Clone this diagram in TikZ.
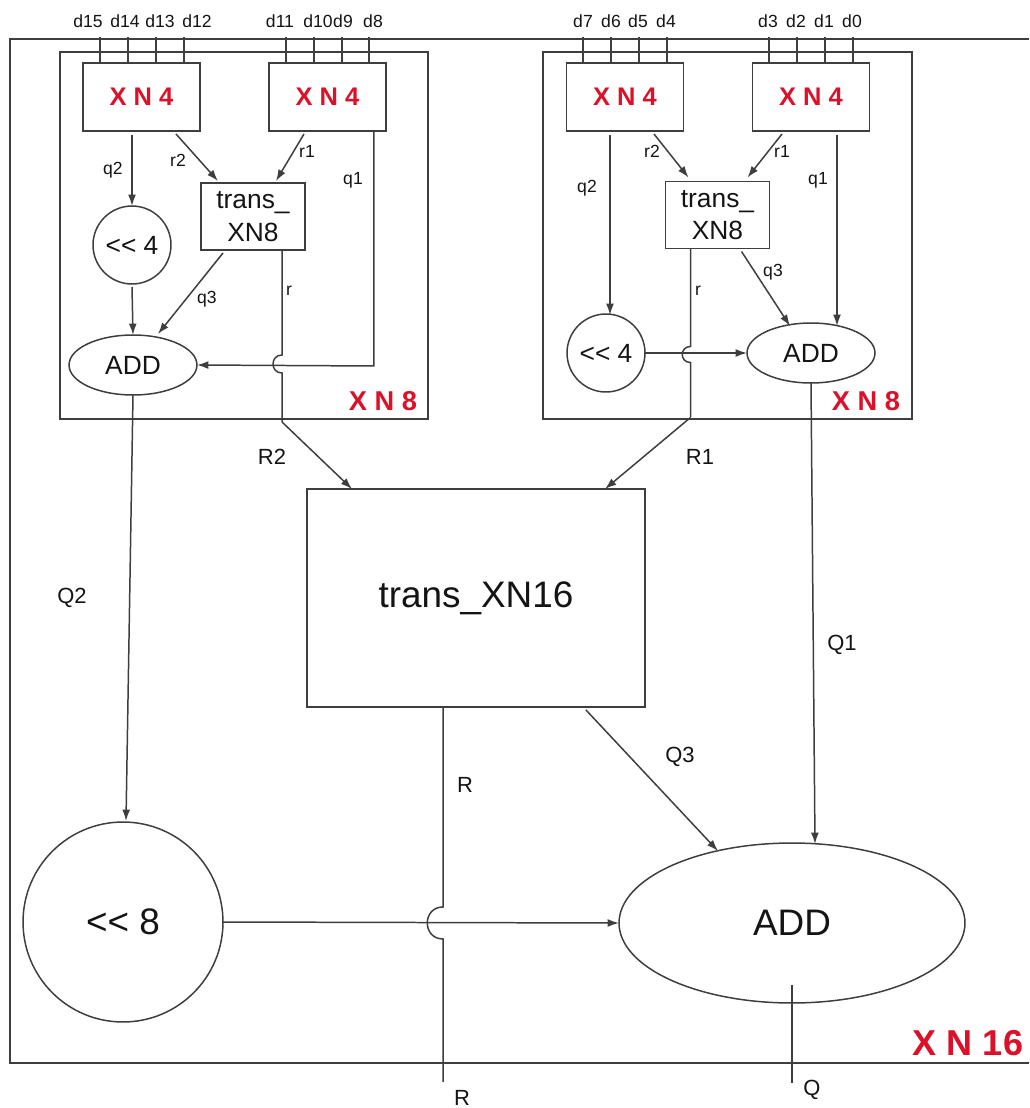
\documentclass[tikz,border=0pt]{standalone}
\usepackage{fontspec}
\setmainfont{Liberation Sans}[Ligatures=TeXOff]
\usetikzlibrary{arrows.meta,shapes.geometric,calc}
\definecolor{xnred}{RGB}{220,16,40}
\definecolor{ln}{RGB}{62,62,62}
\definecolor{tx}{RGB}{20,20,20}
\begin{document}
\begin{tikzpicture}[x=0.02cm,y=-0.02cm,
  every node/.style={inner sep=0pt, outer sep=0pt, text=tx},
  wire/.style={draw=ln, line width=0.85pt},
  arr/.style={wire, -{Latex[length=6.5pt,width=4.5pt]}},
  frame/.style={draw=ln, line width=1pt},
  xnfour/.style={draw=ln, line width=1pt, minimum width=2.34cm, minimum height=1.36cm, font=\fontsize{14.5}{16}\selectfont\bfseries, text=xnred},
  tbox/.style={draw=ln, line width=1pt, minimum width=2.08cm, minimum height=1.34cm, align=center, font=\fontsize{15}{18.5}\selectfont},
  shiftc/.style={draw=ln, line width=0.85pt, circle, minimum size=1.56cm, font=\fontsize{15}{18}\selectfont},
  adds/.style={draw=ln, line width=0.85pt, ellipse, minimum width=2.56cm, minimum height=1.2cm, font=\fontsize{15}{18}\selectfont},
  pinlab/.style={font=\fontsize{10}{12}\selectfont},
  sig/.style={font=\fontsize{10}{12}\selectfont},
  bigsig/.style={font=\fontsize{12.5}{15}\selectfont},
  redlab/.style={text=xnred, font=\fontsize{15.5}{18}\selectfont\bfseries},
]
\useasboundingbox (0,0) rectangle (1029,1108);

% outer XN16 frame
\draw[frame] (1029,39) -- (10,39) -- (10,1063) -- (1029,1063);
\node[redlab, font=\fontsize{20.5}{24}\selectfont\bfseries] (lab16) at (968,1043) {X N 16};

% XN8 frames
\draw[frame] (60,52) rectangle (428,419);
\draw[frame] (543,52) rectangle (912,419);
\node[redlab] (lab8L) at (383,401) {X N 8};
\node[redlab] (lab8R) at (866,401) {X N 8};

% pins
\foreach \x/\n in {88/d15,125/d14,160/d13,197/d12,280/d11,318/d10,343/d9,373/d8,583/d7,611/d6,638/d5,666/d4,768/d3,796/d2,824/d1,852/d0}
  \node[pinlab] (\n) at (\x,21) {\n};
\foreach \x in {100,128,156,184,286,314,342,369,583,611,639,667,769,797,825,853}
  \draw[wire] (\x,37) -- (\x,63);

% ---------- left XN8 ----------
\node[xnfour] (LA) at (141.5,97) {X N 4};
\node[xnfour] (LB) at (327.5,97) {X N 4};
\node[tbox] (LT) at (253,216.5) {trans\_\\XN8};
\node[shiftc] (LS) at (132,245) {<< 4};
\node[adds] (LD) at (133,365) {ADD};

\draw[arr] ($(LS.north |- LA.south)+(0,4)$) -- (LS.north);
\draw[arr] ($(LA.south)+(34.5,3)$) -- ($(LT.north west)+(17,-2)$);
\draw[arr] ($(LB.south)+(-23.5,3)$) -- ($(LT.north west)+(75,-2)$);
\draw[arr] ($(LB.south east)+(-12,0)$) -- ++(0,235) -- (LD.east);
\draw[arr] ($(LS.south)+(0,3)$) -- (LD.north);
\draw[arr] ($(LT.south west)+(22,3)$) -- ($(LD.north)+(25,-1)$);
\coordinate (LrA) at ($(LT.south west)+(81,0)$);
\draw[wire] (LrA) -- ++(0,105) .. controls +(-12,0) and +(-12,0) .. ++(0,18) -- ++(0,49) coordinate (LrE);
\node[sig] (lq2) at (113,170) {q2};
\node[sig] (lr2) at (178,160) {r2};
\node[sig] (lr1) at (307,151) {r1};
\node[sig] (lq1) at (353,180) {q1};
\node[sig] (lq3) at (207,299) {q3};
\node[sig] (lr) at (289,291) {r};

% ---------- right XN8 ----------
\node[xnfour] (RA) at (625,97) {X N 4};
\node[xnfour] (RB) at (811,97) {X N 4};
\node[tbox] (RT) at (717.5,215) {trans\_\\XN8};
\node[shiftc] (RS) at (606,353) {<< 4};
\node[adds] (RD) at (811,353) {ADD};

\draw[arr] ($(RS.north |- RA.south)+(4,4)$) -- ($(RS.north)+(4,1)$);
\draw[arr] ($(RA.south)+(29,3)$) -- ($(RT.north west)+(23,-4)$);
\draw[arr] ($(RB.south)+(-29,3)$) -- ($(RT.north west)+(82,-4)$);
\draw[arr] ($(RB.south)+(26,4)$) -- ($(RD.north)+(26,3)$);
\draw[arr] ($(RT.south west)+(76,3)$) -- ($(RD.north)+(-21,3)$);
\coordinate (RrA) at ($(RT.south west)+(25,0)$);
\draw[wire] (RrA) -- ++(0,98) .. controls +(-11,0) and +(-11,0) .. ++(0,16) -- ++(0,55) coordinate (RrE);
\draw[arr] (RS.east) -- (RD.west);
\node[sig] (rq2) at (587,188) {q2};
\node[sig] (rr2) at (652,151) {r2};
\node[sig] (rr1) at (782,151) {r1};
\node[sig] (rq1) at (818,180) {q1};
\node[sig] (rq3) at (773,272) {q3};
\node[sig] (rr) at (698,291) {r};

% ---------- XN16 level ----------
\node[draw=ln, line width=1pt, minimum width=6.76cm, minimum height=4.36cm, font=\fontsize{21}{24}\selectfont] (T16) at (476,598) {trans\_XN16};
\node[draw=ln, line width=0.85pt, circle, minimum size=4cm, font=\fontsize{21}{24}\selectfont] (S8) at (123,922) {<< 8};
\node[draw=ln, line width=0.85pt, ellipse, minimum width=6.92cm, minimum height=3.2cm, font=\fontsize{21}{24}\selectfont] (BD) at (792,923) {ADD};

\draw[arr] (LrE) -- ($(T16.north west)+(45,0)$);
\draw[arr] (RrE) -- ($(T16.north east)+(-40,0)$);
\draw[arr] (LD.south) -- ($(S8.north)+(3,-1)$);
\draw[arr] (RD.south) -- ($(BD.north)+(23,1)$);
\draw[arr] ($(T16.south east)+(-59,3)$) -- ($(BD.north)+(-74,8)$);
\draw[wire] ($(T16.south west)+(136,0)$) -- ++(0,200) .. controls +(-21,0) and +(-21,0) .. ++(0,32) -- ++(0,143) coordinate (Rout);
\draw[arr] (S8.east) -- (BD.west);
\draw[wire] ($(BD.south)+(0,-18)$) -- ++(0,98) coordinate (Qout);

\node[bigsig] (lR2) at (272,457) {R2};
\node[bigsig] (lR1) at (700,457) {R1};
\node[bigsig] (lQ2) at (72,598) {Q2};
\node[bigsig] (lQ1) at (842,645) {Q1};
\node[bigsig] (lQ3) at (680,757) {Q3};
\node[bigsig] (lR) at (465,785) {R};
\node[bigsig] (lRo) at (462,1098) {R};
\node[bigsig] (lQo) at (812,1090) {Q};
\end{tikzpicture}
\end{document}
